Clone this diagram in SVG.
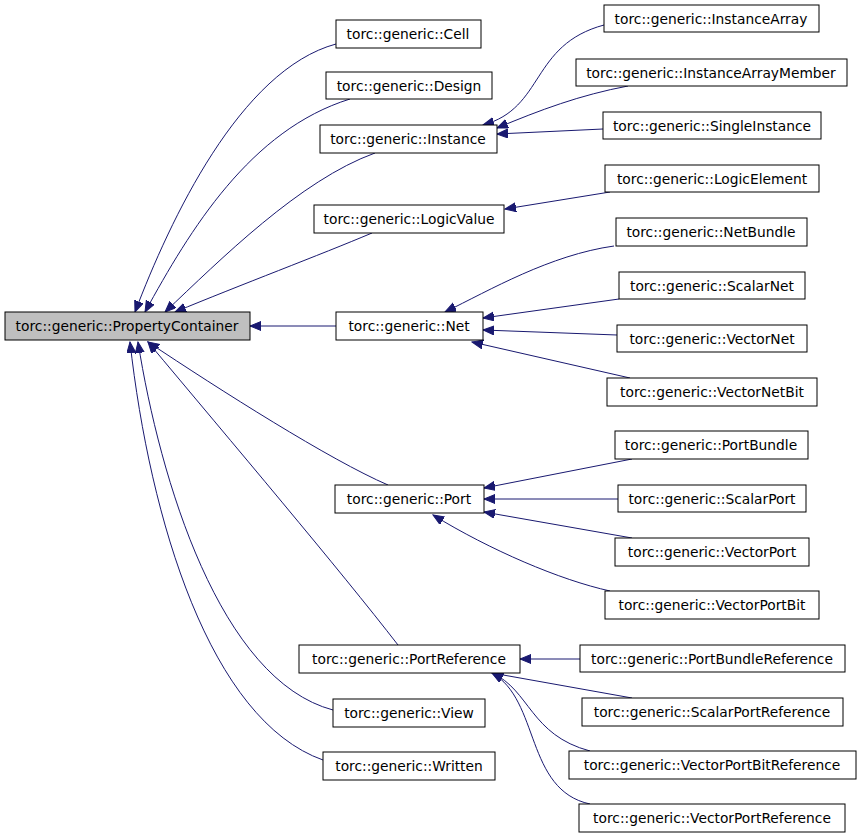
<svg xmlns="http://www.w3.org/2000/svg" width="861" height="840" viewBox="0 0 861 840">
<style>
.n rect{fill:#fff;stroke:#000;stroke-width:1}
.n.g rect{fill:#bfbfbf}
.n text{font-family:"DejaVu Sans",sans-serif;font-size:13.8px;text-anchor:middle;fill:#000}
#edges path{fill:none;stroke:#191970;stroke-width:1;marker-start:url(#a)}
</style>
<defs><marker id="a" markerWidth="12" markerHeight="10" refX="11" refY="4.5" orient="auto-start-reverse" markerUnits="userSpaceOnUse"><polygon points="0,0 11,4.5 0,9" fill="#191970" stroke="#191970"/></marker></defs>
<rect width="861" height="840" fill="#fff"/>
<g id="edges">
<path d="M135,312 C170,220 240,70 336,44"/>
<path d="M145,312 C190,230 250,130 350,99"/>
<path d="M165,312 C220,260 300,180 375,153"/>
<path d="M175,312 C240,285 320,255 372,233"/>
<path d="M250,326 L336,326"/>
<path d="M148,342 C220,390 330,460 388,485"/>
<path d="M148,342 C230,440 340,570 398,645"/>
<path d="M138,342 C160,480 220,680 333,710"/>
<path d="M130,342 C150,520 210,720 323,760"/>
<path d="M483,125 C545,108 530,45 604,25"/>
<path d="M497,128 C540,110 580,95 628,86"/>
<path d="M497,134 L603,129"/>
<path d="M505,209 L610,192"/>
<path d="M445,312 C490,290 550,255 614,246"/>
<path d="M483,318 L619,299"/>
<path d="M483,330 L617,335"/>
<path d="M472,342 L630,378"/>
<path d="M484,488 L632,459"/>
<path d="M484,499 L618,499"/>
<path d="M484,512 L632,538"/>
<path d="M433,515 C490,550 560,580 610,591"/>
<path d="M520,659 L580,659"/>
<path d="M492,673 L632,698"/>
<path d="M492,673 C530,690 530,735 590,751"/>
<path d="M492,673 C540,700 525,790 590,804"/>
</g>
<g id="PropertyContainer" class="n g"><rect x="5" y="312" width="245" height="28"/><text x="127" y="331">torc::generic::PropertyContainer</text></g>
<g id="Cell" class="n"><rect x="336" y="20" width="145" height="28"/><text x="408" y="39">torc::generic::Cell</text></g>
<g id="Design" class="n"><rect x="326" y="72" width="166" height="27"/><text x="409" y="91">torc::generic::Design</text></g>
<g id="Instance" class="n"><rect x="320" y="125" width="177" height="28"/><text x="408" y="144">torc::generic::Instance</text></g>
<g id="LogicValue" class="n"><rect x="314" y="205" width="190" height="28"/><text x="409" y="224">torc::generic::LogicValue</text></g>
<g id="Net" class="n"><rect x="336" y="312" width="147" height="28"/><text x="409" y="331">torc::generic::Net</text></g>
<g id="Port" class="n"><rect x="335" y="485" width="149" height="28"/><text x="409" y="504">torc::generic::Port</text></g>
<g id="PortReference" class="n"><rect x="299" y="645" width="221" height="28"/><text x="409" y="664">torc::generic::PortReference</text></g>
<g id="View" class="n"><rect x="333" y="699" width="152" height="28"/><text x="409" y="718">torc::generic::View</text></g>
<g id="Written" class="n"><rect x="323" y="752" width="172" height="28"/><text x="409" y="771">torc::generic::Written</text></g>
<g id="InstanceArray" class="n"><rect x="604" y="5" width="215" height="27"/><text x="711" y="24">torc::generic::InstanceArray</text></g>
<g id="InstanceArrayMember" class="n"><rect x="576" y="59" width="271" height="27"/><text x="711" y="78">torc::generic::InstanceArrayMember</text></g>
<g id="SingleInstance" class="n"><rect x="603" y="112" width="218" height="27"/><text x="712" y="131">torc::generic::SingleInstance</text></g>
<g id="LogicElement" class="n"><rect x="605" y="165" width="214" height="27"/><text x="712" y="184">torc::generic::LogicElement</text></g>
<g id="NetBundle" class="n"><rect x="616" y="218" width="191" height="28"/><text x="711" y="237">torc::generic::NetBundle</text></g>
<g id="ScalarNet" class="n"><rect x="619" y="272" width="186" height="27"/><text x="712" y="291">torc::generic::ScalarNet</text></g>
<g id="VectorNet" class="n"><rect x="617" y="325" width="190" height="27"/><text x="712" y="344">torc::generic::VectorNet</text></g>
<g id="VectorNetBit" class="n"><rect x="607" y="378" width="210" height="28"/><text x="712" y="397">torc::generic::VectorNetBit</text></g>
<g id="PortBundle" class="n"><rect x="615" y="431" width="193" height="28"/><text x="711" y="450">torc::generic::PortBundle</text></g>
<g id="ScalarPort" class="n"><rect x="618" y="485" width="188" height="27"/><text x="712" y="504">torc::generic::ScalarPort</text></g>
<g id="VectorPort" class="n"><rect x="615" y="538" width="194" height="28"/><text x="712" y="557">torc::generic::VectorPort</text></g>
<g id="VectorPortBit" class="n"><rect x="605" y="591" width="214" height="28"/><text x="712" y="610">torc::generic::VectorPortBit</text></g>
<g id="PortBundleReference" class="n"><rect x="580" y="645" width="265" height="27"/><text x="712" y="664">torc::generic::PortBundleReference</text></g>
<g id="ScalarPortReference" class="n"><rect x="582" y="698" width="261" height="28"/><text x="712" y="717">torc::generic::ScalarPortReference</text></g>
<g id="VectorPortBitReference" class="n"><rect x="569" y="751" width="287" height="28"/><text x="712" y="770">torc::generic::VectorPortBitReference</text></g>
<g id="VectorPortReference" class="n"><rect x="579" y="804" width="266" height="28"/><text x="712" y="823">torc::generic::VectorPortReference</text></g>
</svg>
